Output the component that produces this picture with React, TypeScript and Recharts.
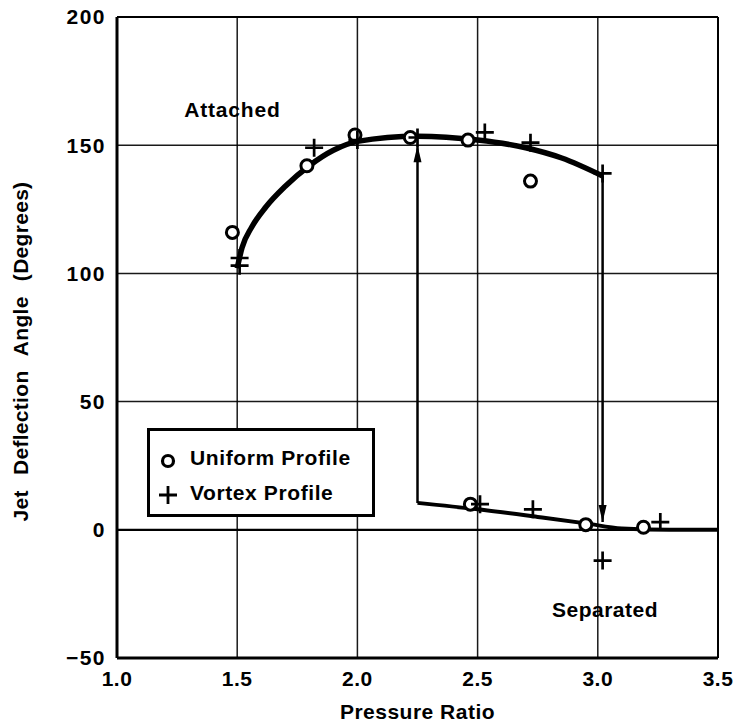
import React from "react";
import {
  ComposedChart,
  Line,
  Scatter,
  XAxis,
  YAxis,
  CartesianGrid,
  ReferenceLine,
  ReferenceDot,
} from "recharts";

// measured points
const uniformProfile = [
  { x: 1.48, y: 116 },
  { x: 1.79, y: 142 },
  { x: 1.99, y: 154 },
  { x: 2.22, y: 153 },
  { x: 2.46, y: 152 },
  { x: 2.72, y: 136 },
  { x: 2.47, y: 10 },
  { x: 2.95, y: 2 },
  { x: 3.19, y: 1 },
];

const vortexProfile = [
  { x: 1.51, y: 106 },
  { x: 1.51, y: 103 },
  { x: 1.82, y: 149 },
  { x: 2.0, y: 152 },
  { x: 2.25, y: 153 },
  { x: 2.53, y: 155 },
  { x: 2.72, y: 151 },
  { x: 3.02, y: 139 },
  { x: 2.51, y: 10 },
  { x: 2.73, y: 8 },
  { x: 3.02, y: -12 },
  { x: 3.26, y: 3 },
];

// faired curves
const attachedCurve = [
  { x: 1.5, y: 102 },
  { x: 1.52, y: 110 },
  { x: 1.56, y: 118 },
  { x: 1.62, y: 126 },
  { x: 1.7, y: 134 },
  { x: 1.8, y: 142 },
  { x: 1.9, y: 148 },
  { x: 2.0, y: 151.5 },
  { x: 2.25, y: 153.5 },
  { x: 2.5, y: 152 },
  { x: 2.7, y: 149 },
  { x: 2.85, y: 145 },
  { x: 3.02, y: 138 },
];

const separatedCurve = [
  { x: 2.25, y: 10.5 },
  { x: 2.5, y: 8 },
  { x: 2.75, y: 5 },
  { x: 2.95, y: 2.5 },
  { x: 3.1, y: 0.5 },
  { x: 3.3, y: 0 },
  { x: 3.5, y: 0 },
];

const upArrow = [
  { x: 2.25, y: 10.5 },
  { x: 2.25, y: 150 },
];

const downArrow = [
  { x: 3.02, y: 138 },
  { x: 3.02, y: 3 },
];

const xTicks = [1.0, 1.5, 2.0, 2.5, 3.0, 3.5];
const yTicks = [-50, 0, 50, 100, 150, 200];

const font = "'Liberation Sans', Arial, sans-serif";
const labelStyle = { fontFamily: font, fontWeight: 700, fill: "#000" };

const Ring = (props: any) => (
  <circle cx={props.cx} cy={props.cy} r={6} fill="#fff" stroke="#000" strokeWidth={3} />
);

const Plus = (props: any) => {
  const { cx, cy } = props;
  return (
    <path
      d={`M${cx - 9},${cy}H${cx + 9}M${cx},${cy - 9}V${cy + 9}`}
      stroke="#000"
      strokeWidth={2.7}
      fill="none"
    />
  );
};

const arrowHead = (dir: "up" | "down") => (props: any) => {
  const { cx, cy, index } = props;
  if (index !== 1) return <g key={index} />;
  const s = dir === "up" ? 1 : -1;
  return (
    <polygon
      key={index}
      points={`${cx},${cy} ${cx - 4},${cy + s * 17} ${cx + 4},${cy + s * 17}`}
      fill="#000"
    />
  );
};

const YTitle = (props: any) => {
  const vb = props.viewBox || {};
  const cx = 20;
  const cy = (vb.y ?? 17) + (vb.height ?? 641) / 2 + 14;
  return (
    <text
      x={cx}
      y={cy}
      transform={`rotate(-90, ${cx}, ${cy})`}
      textAnchor="middle"
      dominantBaseline="central"
      style={{ ...labelStyle, fontSize: 21, wordSpacing: 9, letterSpacing: 0.3 }}
    >
      Jet Deflection Angle (Degrees)
    </text>
  );
};

const LegendBox = () => (
  <div
    style={{
      position: "absolute",
      left: 147,
      top: 428,
      width: 222,
      height: 83,
      border: "3px solid #000",
      background: "#fff",
      fontFamily: font,
      fontWeight: 700,
      fontSize: 21,
      letterSpacing: 0.6,
    }}
  >
    <svg width={30} height={80} style={{ position: "absolute", left: 4, top: 0 }}>
      <circle cx={14} cy={30} r={5.5} fill="#fff" stroke="#000" strokeWidth={3.2} />
      <path d="M5,64H23M14,55V73" stroke="#000" strokeWidth={2.8} />
    </svg>
    <div style={{ position: "absolute", left: 40, top: 15 }}>Uniform Profile</div>
    <div style={{ position: "absolute", left: 40, top: 50 }}>Vortex Profile</div>
  </div>
);

export default function App() {
  return (
    <div style={{ position: "absolute", left: 0, top: 0, width: 734, height: 727, background: "#fff" }}>
      <ComposedChart width={734} height={727} margin={{ top: 17, right: 16, bottom: 0, left: 0 }}>
        <CartesianGrid stroke="#000" strokeWidth={1.5} strokeOpacity={0.9} />
        <XAxis
          type="number"
          dataKey="x"
          domain={[1, 3.5]}
          ticks={xTicks}
          height={69}
          tickLine={false}
          axisLine={{ stroke: "#000", strokeWidth: 3 }}
          tick={{ ...labelStyle, fontSize: 21, letterSpacing: 0.5 }}
          tickMargin={7}
          tickFormatter={(v: number) => v.toFixed(1)}
          label={{ value: "Pressure Ratio", position: "insideBottom", offset: 8, style: { ...labelStyle, fontSize: 21, letterSpacing: 0.5 } }}
        />
        <YAxis
          type="number"
          domain={[-50, 200]}
          ticks={yTicks}
          width={117}
          tickLine={false}
          axisLine={{ stroke: "#000", strokeWidth: 3 }}
          tick={{ ...labelStyle, fontSize: 21, letterSpacing: 1.5 }}
          tickMargin={5}
          tickFormatter={(v: number) => (v < 0 ? `\u2212${-v}` : `${v}`)}
          label={<YTitle />}
        />
        <ReferenceLine y={200} stroke="#000" strokeWidth={2} />
        <ReferenceLine x={3.5} stroke="#000" strokeWidth={2} />
        <ReferenceLine y={0} stroke="#000" strokeWidth={2.2} />
        <Line data={attachedCurve} dataKey="y" type="monotone" stroke="#000" strokeWidth={5.5} dot={false} isAnimationActive={false} />
        <Line data={separatedCurve} dataKey="y" type="monotone" stroke="#000" strokeWidth={4} dot={false} isAnimationActive={false} />
        <Line data={upArrow} dataKey="y" stroke="#000" strokeWidth={2.5} dot={arrowHead("up")} isAnimationActive={false} />
        <Line data={downArrow} dataKey="y" stroke="#000" strokeWidth={2.5} dot={arrowHead("down")} isAnimationActive={false} />
        <Scatter name="Uniform Profile" data={uniformProfile} dataKey="y" shape={Ring} isAnimationActive={false} />
        <Scatter name="Vortex Profile" data={vortexProfile} dataKey="y" shape={Plus} isAnimationActive={false} />
        <ReferenceDot x={1.48} y={164} r={0} label={{ value: "Attached", position: "center", style: { ...labelStyle, fontSize: 21, letterSpacing: 0.8 } }} />
        <ReferenceDot x={3.03} y={-31} r={0} label={{ value: "Separated", position: "center", style: { ...labelStyle, fontSize: 21, letterSpacing: 0.5 } }} />
      </ComposedChart>
      <LegendBox />
    </div>
  );
}
